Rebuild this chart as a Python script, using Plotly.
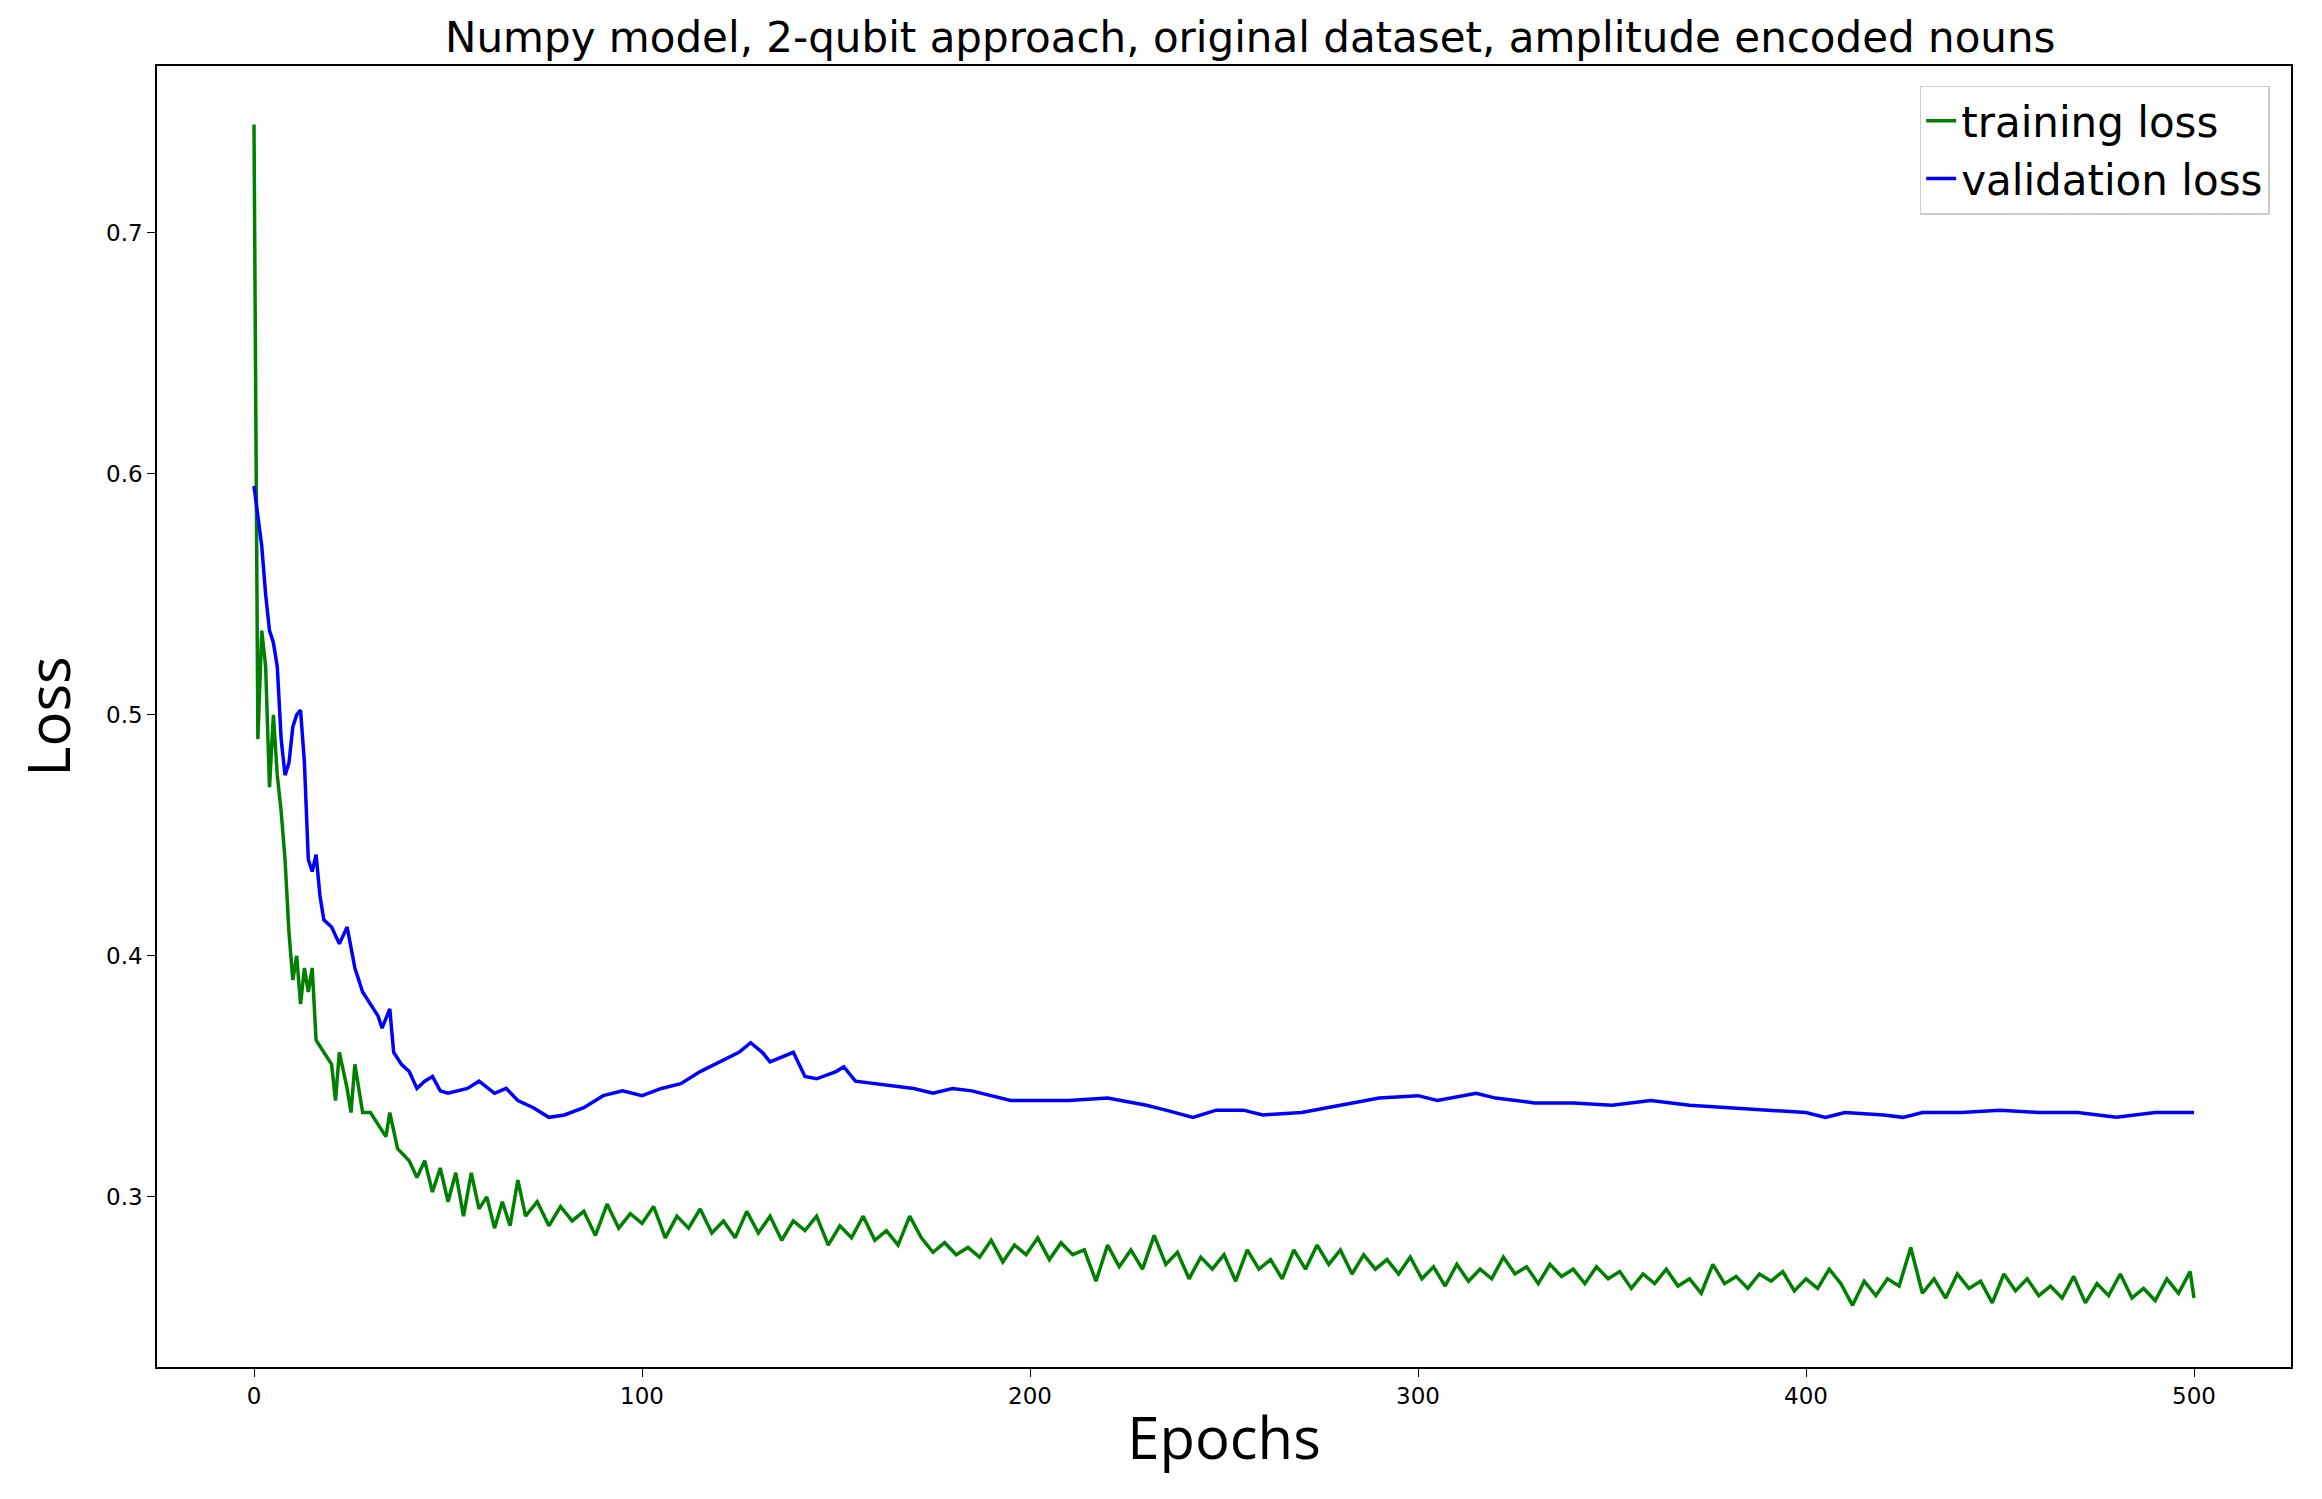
import plotly.graph_objects as go

# === Data ===
train_epochs = [0, 1, 2, 3, 4, 5, 6, 7, 8, 9, 10, 11, 12, 13, 14, 15, 16, 18, 20, 21, 22, 24, 25, 26, 28,
                30, 32, 34, 35, 37, 40, 42, 44, 46, 48, 50, 52, 54, 56, 58, 60, 62, 64, 66, 68]
train_epochs += list(range(70, 500, 3)) + [500]
train_loss = [0.745, 0.49, 0.535, 0.52, 0.47, 0.50, 0.475, 0.46, 0.44, 0.41, 0.39, 0.40, 0.38, 0.395, 0.385,
              0.395, 0.365, 0.36, 0.355, 0.34, 0.36, 0.345, 0.335, 0.355, 0.335,
              0.335, 0.33, 0.325, 0.335, 0.32, 0.315, 0.308, 0.315, 0.302, 0.312, 0.298, 0.31, 0.292,
              0.31, 0.295, 0.30, 0.287, 0.298, 0.288, 0.307]
train_loss += [
    0.292, 0.298, 0.288, 0.296, 0.290, 0.294, 0.284, 0.297, 0.287, 0.293, 0.289, 0.296, 0.283, 0.292,
    0.287, 0.295, 0.285, 0.290, 0.283, 0.294, 0.285, 0.292, 0.282, 0.290, 0.286, 0.292, 0.280, 0.288,
    0.283, 0.292, 0.282, 0.286, 0.280, 0.292, 0.283, 0.277, 0.281, 0.276, 0.279, 0.275, 0.282, 0.273,
    0.280, 0.276, 0.283, 0.274, 0.281, 0.276, 0.278, 0.265, 0.280, 0.271, 0.278, 0.270, 0.284, 0.272,
    0.277, 0.266, 0.275, 0.270, 0.276, 0.265, 0.278, 0.270, 0.274, 0.266, 0.278, 0.270, 0.280, 0.272,
    0.278, 0.268, 0.276, 0.270, 0.274, 0.268, 0.275, 0.266, 0.271, 0.263, 0.272, 0.265, 0.270, 0.266,
    0.275, 0.268, 0.271, 0.264, 0.272, 0.267, 0.270, 0.264, 0.271, 0.266, 0.269, 0.262, 0.268, 0.264,
    0.270, 0.263, 0.266, 0.260, 0.272, 0.264, 0.267, 0.262, 0.268, 0.265, 0.269, 0.261, 0.266, 0.262,
    0.270, 0.264, 0.255, 0.265, 0.259, 0.266, 0.263, 0.279, 0.260, 0.266, 0.258, 0.268, 0.262, 0.265,
    0.256, 0.268, 0.261, 0.266, 0.259, 0.263, 0.258, 0.267, 0.256, 0.264, 0.259, 0.268, 0.258, 0.262,
    0.257, 0.266, 0.260, 0.269, 0.258, 0.261]

val_epochs = [0, 2, 3, 4, 5, 6, 7, 8, 9, 10, 11, 12, 13, 14, 15, 16, 17, 18, 20, 22, 24, 26, 28, 30, 32,
              33, 35, 36, 38, 40, 42, 44, 46, 48, 50, 55, 58, 62, 65, 68, 72, 76, 80, 85, 90, 95, 100,
              105, 110, 115, 120, 125, 128, 131, 133, 136, 139, 142, 145, 150, 152, 155, 160, 165, 170,
              175, 180, 185, 190, 195, 200, 210, 220, 230, 235, 242, 248, 255, 260, 270, 280, 290, 300,
              305, 315, 320, 330, 340, 350, 360, 370, 380, 390, 400, 405, 410, 420, 425, 430, 440, 450,
              460, 470, 480, 490, 500]
val_loss = [0.595, 0.57, 0.55, 0.535, 0.53, 0.52, 0.49, 0.475, 0.48, 0.495, 0.50, 0.502, 0.48, 0.44,
            0.435, 0.442, 0.425, 0.415, 0.412, 0.405, 0.412, 0.395, 0.385, 0.38, 0.375, 0.37, 0.378,
            0.36, 0.355, 0.352, 0.345, 0.348, 0.35, 0.344, 0.343, 0.345, 0.348, 0.343, 0.345, 0.340,
            0.337, 0.333, 0.334, 0.337, 0.342, 0.344, 0.342, 0.345, 0.347, 0.352, 0.356, 0.360, 0.364,
            0.360, 0.356, 0.358, 0.360, 0.350, 0.349, 0.352, 0.354, 0.348, 0.347, 0.346, 0.345, 0.343,
            0.345, 0.344, 0.342, 0.340, 0.340, 0.340, 0.341, 0.338, 0.336, 0.333, 0.336, 0.336, 0.334,
            0.335, 0.338, 0.341, 0.342, 0.340, 0.343, 0.341, 0.339, 0.339, 0.338, 0.340, 0.338, 0.337,
            0.336, 0.335, 0.333, 0.335, 0.334, 0.333, 0.335, 0.335, 0.336, 0.335, 0.335, 0.333, 0.335,
            0.335]

fig = go.Figure()
fig.add_trace(go.Scatter(x=train_epochs, y=train_loss, mode="lines", name="training loss",
                         line=dict(color="green", width=3.5)))
fig.add_trace(go.Scatter(x=val_epochs, y=val_loss, mode="lines", name="validation loss",
                         line=dict(color="blue", width=3.5)))

axis_common = dict(showline=True, mirror=True, linecolor="black", linewidth=1.5, showgrid=False,
                   zeroline=False, ticks="outside", ticklen=8, tickcolor="black",
                   tickfont=dict(family="DejaVu Sans", size=23, color="black"))

fig.update_layout(
    width=2322, height=1499,
    paper_bgcolor="white", plot_bgcolor="white",
    margin=dict(l=149, r=39, t=58, b=140),
    title=dict(text="Numpy model, 2-qubit approach, original dataset, amplitude encoded nouns",
               x=0.535, xanchor="center", y=0.99, yanchor="top",
               font=dict(family="DejaVu Sans", size=42, color="black")),
    xaxis=dict(range=[-25, 525], tickvals=[0, 100, 200, 300, 400, 500],
               title=dict(text="Epochs", font=dict(family="Open Sans", size=58, color="black"), standoff=10),
               **axis_common),
    yaxis=dict(range=[0.2294, 0.7693], tickvals=[0.3, 0.4, 0.5, 0.6, 0.7],
               title=dict(text="Loss", font=dict(family="Open Sans", size=58, color="black"), standoff=25),
               **axis_common),
    legend=dict(x=0.99, y=0.985, xanchor="right", yanchor="top", bgcolor="white",
                bordercolor="#cccccc", borderwidth=1.5,
                font=dict(family="DejaVu Sans", size=42, color="black")),
)

fig.write_html("out.html")
